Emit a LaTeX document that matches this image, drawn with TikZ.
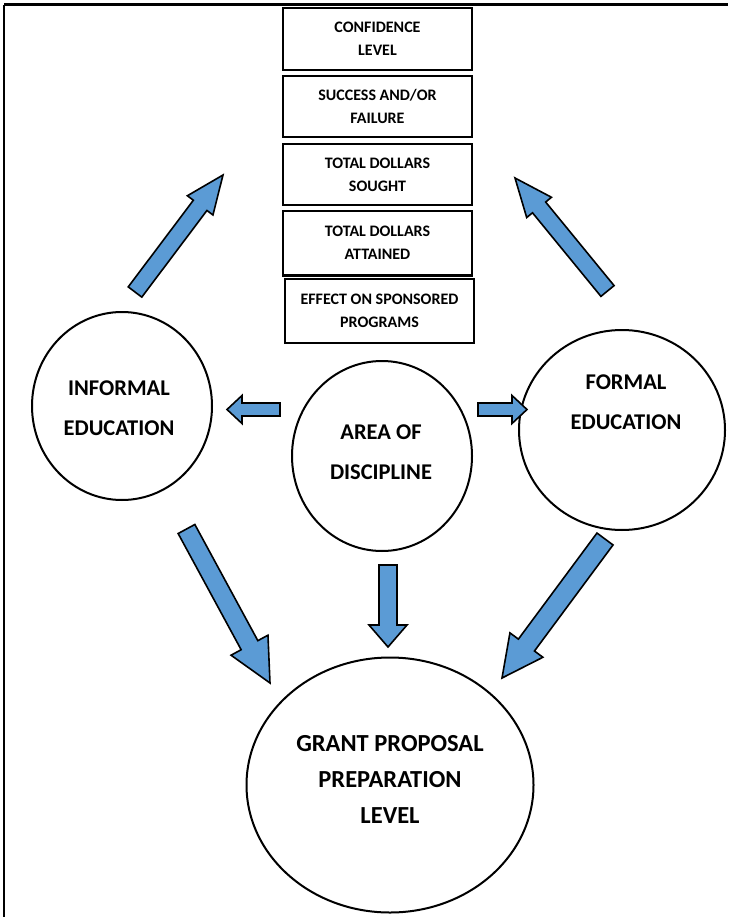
\documentclass[tikz,border=0pt]{standalone}
\usepackage{fontspec}
\setmainfont{Carlito}
\usetikzlibrary{shapes.geometric}
\definecolor{arrowblue}{RGB}{91,155,213}
\tikzset{
  boxsty/.style={draw=black, line width=2pt, rectangle, inner sep=0pt, align=center,
    font=\bfseries\fontsize{16}{23}\selectfont},
  circsty/.style={draw=black, line width=2pt, ellipse, inner sep=0pt},
  circtext/.style={align=center, font=\bfseries\fontsize{22.5}{40}\selectfont},
  granttext/.style={align=center, font=\bfseries\fontsize{24.5}{36}\selectfont},
  arrowsty/.style={draw=black, line width=1.6pt, fill=arrowblue, line join=miter},
}
% block arrow: #1 tail coordinate, #2 tip coordinate, #3 half shaft, #4 half head, #5 head length
\newcommand\blockarr[5]{%
  \pgfpointdiff{\pgfpointanchor{#1}{center}}{\pgfpointanchor{#2}{center}}%
  \pgfgetlastxy{\bdx}{\bdy}%
  \pgfmathsetmacro\bang{atan2(\bdy,\bdx)}%
  \pgfmathsetmacro\blen{veclen(\bdx,\bdy)}%
  \begin{scope}[shift={(#1)}, rotate=\bang, x=1pt, y=1pt]
    \draw[arrowsty] (0,-#3) -- (\blen-#5,-#3) -- (\blen-#5,-#4) -- (\blen,0)
      -- (\blen-#5,#4) -- (\blen-#5,#3) -- (0,#3) -- cycle;
  \end{scope}}
\begin{document}
\begin{tikzpicture}[x=1pt, y=-1pt]
\useasboundingbox (0,0) rectangle (728,917);
% frame
\coordinate (fl) at (4,917);
\coordinate (ftl) at (4,5);
\coordinate (ftr) at (728,5);
\draw[line width=3pt] (ftl) -- (ftr);
\draw[line width=1.5pt] (ftl) -- (fl);

% boxes
\node[boxsty, minimum width=189pt, minimum height=62pt] (b1) at (377.5,39) {CONFIDENCE\\LEVEL};
\node[boxsty, minimum width=189pt, minimum height=61pt] (b2) at (377.5,106.5) {SUCCESS AND/OR\\FAILURE};
\node[boxsty, minimum width=189pt, minimum height=61pt] (b3) at (377.5,174.5) {TOTAL DOLLARS\\SOUGHT};
\node[boxsty, minimum width=189pt, minimum height=63pt] (b4) at (377.5,243) {TOTAL DOLLARS\\ATTAINED};
\draw[line width=3.5pt] (b4.south west) -- (b4.south east);
\node[boxsty, minimum width=189pt, minimum height=64pt] (b5) at (379.5,310.5) {EFFECT ON SPONSORED\\PROGRAMS};

% circles
\node[circsty, minimum width=180pt, minimum height=188pt] (inf) at (122,406) {};
\node[circtext] (inft) at (119,408) {INFORMAL\\EDUCATION};
\node[circsty, minimum width=180pt, minimum height=190pt] (area) at (382,456) {};
\node[circtext] (areat) at (381,452) {AREA OF\\DISCIPLINE};
\node[circsty, minimum width=206pt, minimum height=200pt] (form) at (622,430) {};
\node[circtext] (formt) at (626,402) {FORMAL\\EDUCATION};
\node[circsty, minimum width=287pt, minimum height=255pt] (grant) at (390,785) {};
\node[granttext] (grantt) at (390,779) {GRANT PROPOSAL\\PREPARATION\\LEVEL};

% arrow end points
\coordinate (a1s) at (135,292);   \coordinate (a1e) at (223,175);
\coordinate (a2s) at (607.5,291); \coordinate (a2e) at (515,178);
\coordinate (a3s) at (186.5,529); \coordinate (a3e) at (270,683);
\coordinate (a4s) at (605,539);   \coordinate (a4e) at (502,678);
\coordinate (a5s) at (280,409.5); \coordinate (a5e) at (227,409.5);
\coordinate (a6s) at (478,409.5); \coordinate (a6e) at (527,409.5);
\coordinate (a7s) at (388,565);   \coordinate (a7e) at (388,647);

\blockarr{a1s}{a1e}{8.5}{16}{38}
\blockarr{a2s}{a2e}{8.5}{16}{38}
\blockarr{a3s}{a3e}{9.5}{21}{43}
\blockarr{a4s}{a4e}{10}{20.5}{41}
\blockarr{a5s}{a5e}{6.5}{14}{15}
\blockarr{a6s}{a6e}{6.5}{14}{15}
\blockarr{a7s}{a7e}{9}{19}{22}
\end{tikzpicture}
\end{document}
